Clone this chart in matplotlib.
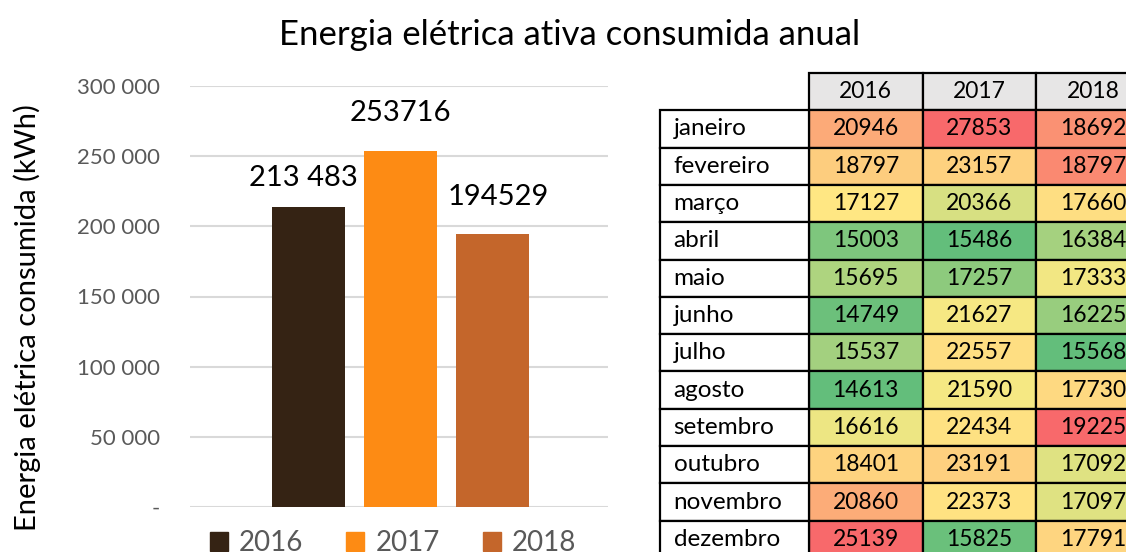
import numpy as np
import matplotlib
matplotlib.use("Agg")
import matplotlib.pyplot as plt
from matplotlib.colors import LinearSegmentedColormap, TwoSlopeNorm
from matplotlib.patches import Rectangle
from matplotlib.ticker import FuncFormatter

plt.rcParams['font.family'] = ['Lato', 'DejaVu Sans']

# ---------------- data ----------------
years = ['2016', '2017', '2018']
annual_totals = [213483, 253716, 194529]
annual_labels = ['213 483', '253716', '194529']
bar_colors = ['#352314', '#FD8B14', '#C4662B']

months = ['janeiro', 'fevereiro', 'março', 'abril', 'maio', 'junho', 'julho',
          'agosto', 'setembro', 'outubro', 'novembro', 'dezembro']
monthly_2016 = [20946, 18797, 17127, 15003, 15695, 14749, 15537, 14613, 16616, 18401, 20860, 25139]
monthly_2017 = [27853, 23157, 20366, 15486, 17257, 21627, 22557, 21590, 22434, 23191, 22373, 15825]
monthly_2018 = [18692, 18797, 17660, 16384, 17333, 16225, 15568, 17730, 19225, 17092, 17097, 17791]

yticks = [0, 50000, 100000, 150000, 200000, 250000, 300000]

# label offsets above bar tops (points) - styling
label_offsets = [(-4, 21), (0, 27), (4, 27)]

# ---------------- figure ----------------
W, H = 1126, 552
fig = plt.figure(figsize=(W / 100, H / 100), dpi=100)

fig.text(570 / W, 1 - 35 / H, 'Energia elétrica ativa consumida anual',
         ha='center', va='center', fontsize=25, color='#000000')

# bar chart
ax = fig.add_axes([190 / W, 1 - 507 / H, (608 - 190) / W, (507 - 86) / H])
x = np.arange(len(years))
ax.bar(x, annual_totals, width=0.79, color=bar_colors, label=years, zorder=3)
ax.set_xlim(-1.29, 3.255)
ax.set_ylim(0, 300000)
ax.set_yticks(yticks)
ax.yaxis.set_major_formatter(FuncFormatter(
    lambda v, p: '-' if v == 0 else f'{int(v):,}'.replace(',', ' ')))
ax.tick_params(axis='y', length=0, labelsize=16, labelcolor='#595959', pad=21.5)
ax.set_xticks([])
ax.grid(axis='y', color='#D9D9D9', linewidth=1.5, zorder=0)
for s in ax.spines.values():
    s.set_visible(False)
for xi, v, lab, off in zip(x, annual_totals, annual_labels, label_offsets):
    ax.annotate(lab, (xi, v), xytext=off, textcoords='offset points',
                ha='center', va='center', fontsize=21, color='#000000')

fig.text(27 / W, 1 - 318 / H, 'Energia elétrica consumida (kWh)', rotation=90,
         ha='center', va='center', fontsize=21, color='#000000')

handles = [Rectangle((0, 0), 1, 1, color=c) for c in bar_colors]
fig.legend(handles, years, loc='center', bbox_to_anchor=(393 / W, 1 - 543 / H),
           ncol=3, frameon=False, fontsize=20, labelcolor='#595959',
           handlelength=0.65, handleheight=0.65, handletextpad=0.4, columnspacing=1.55,
           borderpad=0)

# heatmap table
cmap = LinearSegmentedColormap.from_list('excel3', ['#63BE7B', '#FFEB84', '#F8696B'])
tab = fig.add_axes([660 / W, 1 - 558 / H, (1150 - 660) / W, (558 - 73) / H])
lab_w = 1.31
tab.set_xlim(0, lab_w + 3)
tab.set_ylim(len(months), -1)
tab.axis('off')
lw = 1.6
cols = [monthly_2016, monthly_2017, monthly_2018]
for j, (yr, vals) in enumerate(zip(years, cols)):
    x0 = lab_w + j
    tab.add_patch(Rectangle((x0, -1), 1, 1, facecolor='#E7E6E6', edgecolor='black',
                            linewidth=lw, clip_on=False))
    tab.text(x0 + 0.5, -0.5, yr, ha='center', va='center', fontsize=16.5, color='#000000')
    norm = TwoSlopeNorm(vmin=min(vals), vcenter=float(np.median(vals)), vmax=max(vals))
    for i, v in enumerate(vals):
        tab.add_patch(Rectangle((x0, i), 1, 1, facecolor=cmap(norm(v)), edgecolor='black',
                                linewidth=lw, clip_on=False))
        tab.text(x0 + 0.5, i + 0.5, str(v), ha='center', va='center', fontsize=16.5,
                 color='#000000')
for i, m in enumerate(months):
    tab.add_patch(Rectangle((0, i), lab_w, 1, facecolor='white', edgecolor='black',
                            linewidth=lw, clip_on=False))
    tab.text(0.12, i + 0.5, m, ha='left', va='center', fontsize=17.5, color='#000000')

fig.savefig('out.png', dpi=100)
